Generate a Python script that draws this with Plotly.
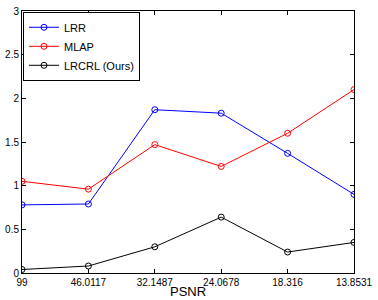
import plotly.graph_objects as go

categories = ["99", "46.0117", "32.1487", "24.0678", "18.316", "13.8531"]
lrr = [0.78, 0.79, 1.87, 1.83, 1.37, 0.90]
mlap = [1.05, 0.96, 1.47, 1.22, 1.60, 2.10]
lrcrl = [0.04, 0.08, 0.30, 0.64, 0.24, 0.35]
y_ticks = [0, 0.5, 1, 1.5, 2, 2.5, 3]
y_ticklabels = ["0", "0.5", "1", "1.5", "2", "2.5", "3"]

xpos = list(range(len(categories)))

fig = go.Figure()
for name, vals, col in [("LRR", lrr, "#0000ff"), ("MLAP", mlap, "#ff0000"), ("LRCRL (Ours)", lrcrl, "#000000")]:
    fig.add_trace(go.Scatter(
        x=xpos, y=vals, name=name, mode="lines+markers",
        line=dict(color=col, width=1),
        marker=dict(symbol="circle-open", size=6, color=col, line=dict(width=1, color=col)),
    ))

font = "Liberation Sans, Arial, sans-serif"
axis_common = dict(
    showline=True, linecolor="black", linewidth=1, mirror="allticks",
    ticks="inside", ticklen=4, tickcolor="black", showgrid=False, zeroline=False,
    tickfont=dict(family=font, size=10, color="black"),
    ticklabeloverflow="allow",
)
fig.update_xaxes(range=[0, 5], tickmode="array", tickvals=xpos, ticktext=categories, **axis_common)
fig.update_yaxes(range=[0, 3], tickmode="array", tickvals=y_ticks, ticktext=y_ticklabels, **axis_common)

fig.add_annotation(text="PSNR", xref="paper", yref="paper", x=0.5, y=-0.071,
                   xanchor="center", yanchor="middle", showarrow=False,
                   font=dict(family=font, size=13, color="black"))

fig.update_layout(
    width=378, height=300,
    margin=dict(l=17, r=18, t=5, b=27),
    paper_bgcolor="white", plot_bgcolor="white",
    showlegend=True,
    legend=dict(x=0.003, y=0.997, xanchor="left", yanchor="top",
                bgcolor="white", bordercolor="black", borderwidth=1,
                font=dict(family=font, size=11, color="black"),
                itemwidth=30, tracegroupgap=0),
)
fig.write_html("out.html", config={"displayModeBar": False},
               post_script="document.body.style.margin='0';document.body.style.overflow='hidden';")
